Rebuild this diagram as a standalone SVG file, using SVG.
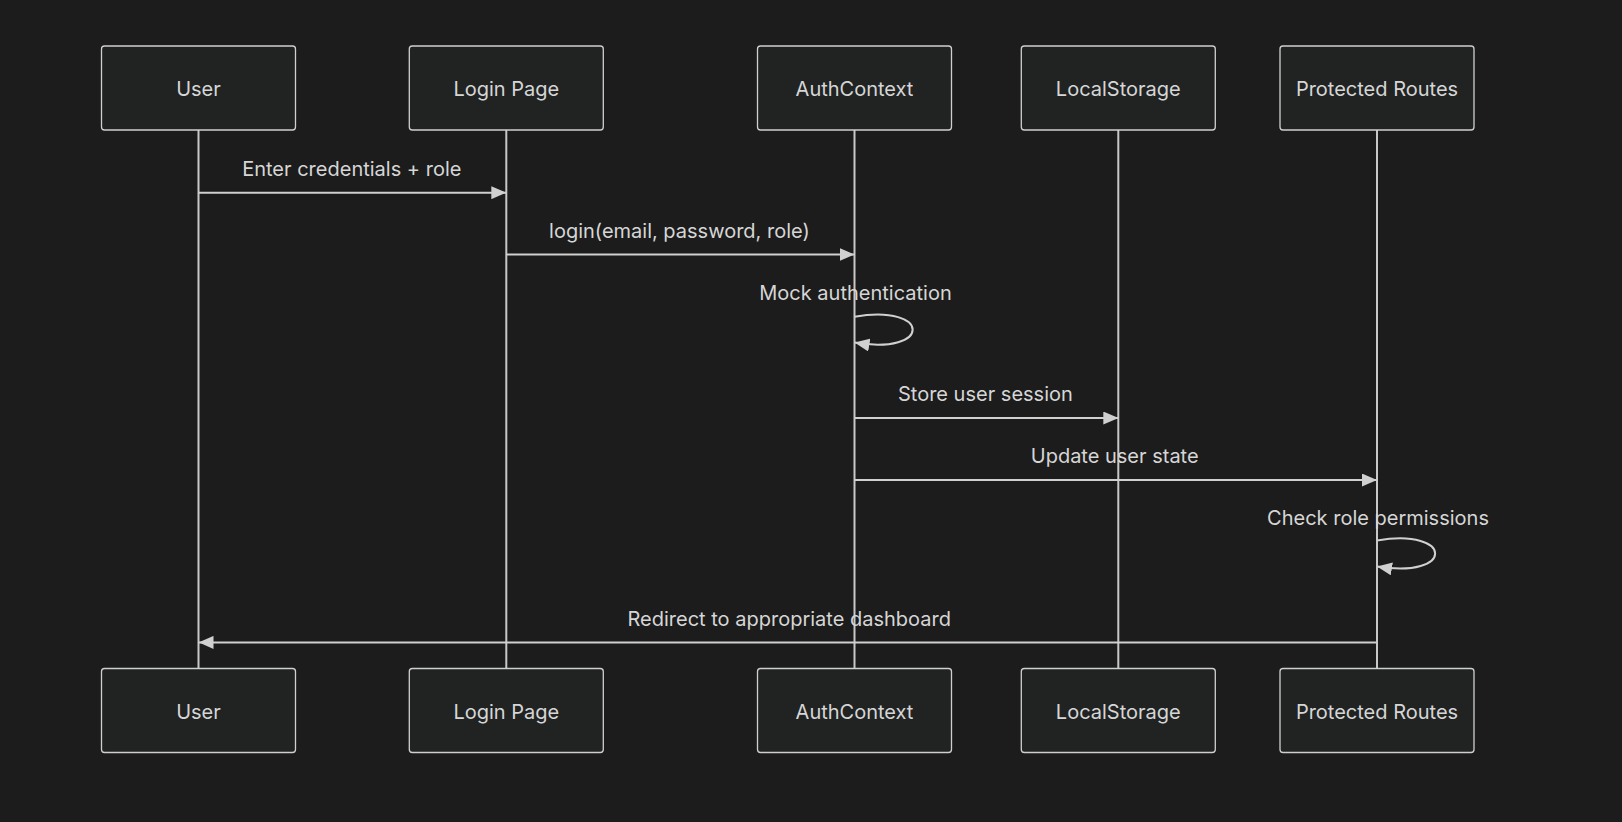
<svg xmlns="http://www.w3.org/2000/svg" width="1622" height="822" viewBox="0 0 1622 822">
<defs>
<style>
.bg{fill:#1c1c1c}
.actor rect{fill:#212323;stroke:#cfcfcf;stroke-width:1.3}
.actor text{fill:#d6d6d6;font-family:Inter,"Noto Sans",sans-serif;font-size:20px;font-weight:400;text-anchor:middle;dominant-baseline:central}
.life{stroke:#c8c8c8;stroke-width:2}
.msg{stroke:#d0d0d0;stroke-width:2;fill:none}
.lbl{fill:#d6d6d6;font-family:Inter,"Noto Sans",sans-serif;font-size:20px;font-weight:400;text-anchor:middle;dominant-baseline:central}
</style>
<marker id="ah" viewBox="0 0 15 13" refX="15" refY="6.5" markerWidth="15" markerHeight="13" markerUnits="userSpaceOnUse" orient="auto">
<path d="M0,0 L15,6.5 L0,13 Z" fill="#d0d0d0"/>
</marker>
</defs>
<rect class="bg" x="0" y="0" width="1622" height="822"/>
<g id="lifelines">
<line class="life" x1="198.5" y1="130" x2="198.5" y2="668"/>
<line class="life" x1="506.3" y1="130" x2="506.3" y2="668"/>
<line class="life" x1="854.5" y1="130" x2="854.5" y2="668"/>
<line class="life" x1="1118.3" y1="130" x2="1118.3" y2="668"/>
<line class="life" x1="1377" y1="130" x2="1377" y2="668"/>
</g>
<g id="actor-user-top" class="actor"><rect x="101.5" y="46" width="194" height="84" rx="3"/><text x="198.5" y="89">User</text></g>
<g id="actor-login-top" class="actor"><rect x="409.3" y="46" width="194" height="84" rx="3"/><text x="506.3" y="89">Login Page</text></g>
<g id="actor-auth-top" class="actor"><rect x="757.5" y="46" width="194" height="84" rx="3"/><text x="854.5" y="89">AuthContext</text></g>
<g id="actor-local-top" class="actor"><rect x="1021.3" y="46" width="194" height="84" rx="3"/><text x="1118.3" y="89">LocalStorage</text></g>
<g id="actor-protected-top" class="actor"><rect x="1280" y="46" width="194" height="84" rx="3"/><text x="1377" y="89">Protected Routes</text></g>
<g id="actor-user-bottom" class="actor"><rect x="101.5" y="668.5" width="194" height="84" rx="3"/><text x="198.5" y="712">User</text></g>
<g id="actor-login-bottom" class="actor"><rect x="409.3" y="668.5" width="194" height="84" rx="3"/><text x="506.3" y="712">Login Page</text></g>
<g id="actor-auth-bottom" class="actor"><rect x="757.5" y="668.5" width="194" height="84" rx="3"/><text x="854.5" y="712">AuthContext</text></g>
<g id="actor-local-bottom" class="actor"><rect x="1021.3" y="668.5" width="194" height="84" rx="3"/><text x="1118.3" y="712">LocalStorage</text></g>
<g id="actor-protected-bottom" class="actor"><rect x="1280" y="668.5" width="194" height="84" rx="3"/><text x="1377" y="712">Protected Routes</text></g>
<g id="connectors">
<line class="msg" x1="198.5" y1="192.7" x2="506.3" y2="192.7" marker-end="url(#ah)"/>
<line class="msg" x1="506.3" y1="254.5" x2="854.5" y2="254.5" marker-end="url(#ah)"/>
<path class="msg" d="M854.5,316.7 C932,303.8 932,355.5 854.5,342.6" marker-end="url(#ah)"/>
<line class="msg" x1="854.5" y1="418" x2="1118.3" y2="418" marker-end="url(#ah)"/>
<line class="msg" x1="854.5" y1="480" x2="1377" y2="480" marker-end="url(#ah)"/>
<path class="msg" d="M1377,540.5 C1454.5,527.6 1454.5,579.3 1377,566.4" marker-end="url(#ah)"/>
<line class="msg" x1="1377" y1="642.4" x2="198.5" y2="642.4" marker-end="url(#ah)"/>
</g>
<g id="labels">
<text class="lbl" x="351.8" y="169">Enter credentials + role</text>
<text class="lbl" x="679.4" y="231">login(email, password, role)</text>
<text class="lbl" x="855.5" y="293">Mock authentication</text>
<text class="lbl" x="985.4" y="393.5">Store user session</text>
<text class="lbl" x="1114.7" y="456">Update user state</text>
<text class="lbl" x="1378" y="518">Check role permissions</text>
<text class="lbl" x="789.2" y="619">Redirect to appropriate dashboard</text>
</g>
</svg>
